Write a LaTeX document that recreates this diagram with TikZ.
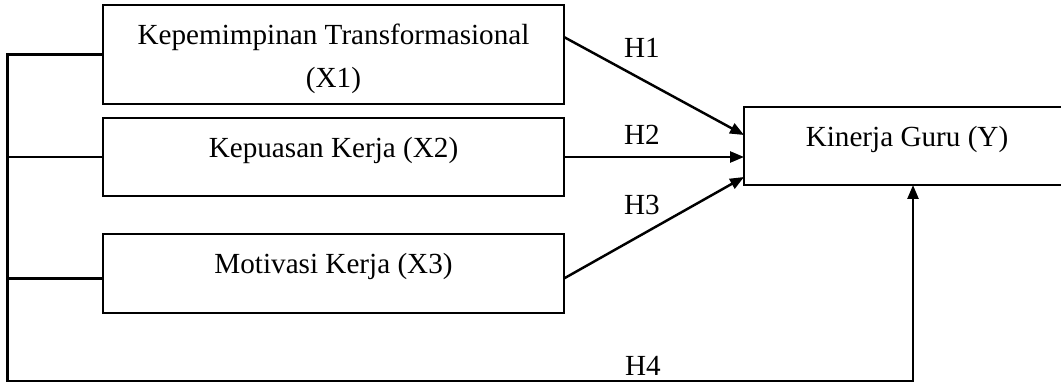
\documentclass[tikz,border=0pt]{standalone}
\usepackage{fontspec}
\setmainfont{Liberation Serif}
\usetikzlibrary{arrows.meta}

\begin{document}
\begin{tikzpicture}[x=0.02cm,y=-0.02cm,
  box/.style = {draw, line width=1pt, outer sep=0pt, inner sep=2pt
    , minimum width=9.22cm, align=center
    , font=\fontsize{16.6}{24.4}\selectfont},
  lowtext/.style = {text height=0.35cm, text depth=0.35cm},
  link/.style = {line width=1.4pt},
  hyp/.style = {link, -{Triangle[length=0.28cm,width=0.22cm]}},
  lbl/.style = {font=\fontsize{16.6}{19}\selectfont, inner sep=0pt}]

 \useasboundingbox (0,0) rectangle (1061,385);

 % variables
 \node[box, text height=1.45cm, text depth=0.13cm, minimum height=1.98cm] (X1) at (333.5,54.5) {Kepemimpinan Transformasional\\(X1)};
 \node[box, lowtext, minimum height=1.56cm] (X2) at (333.5,157) {Kepuasan Kerja (X2)};
 \node[box, lowtext, minimum height=1.58cm] (X3) at (333.5,273.5) {Motivasi Kerja (X3)};
 \node[box, lowtext, minimum width=6.52cm, minimum height=1.56cm] (Y) at (907,146) {Kinerja Guru (Y)};

 \coordinate (L) at (7.5,381);
 \coordinate (B) at (913,381);

 % hypotheses
 \draw[hyp] ([yshift=0.35cm]X1.east) -- ([yshift=0.22cm]Y.west);
 \draw[hyp] (X2.east) -- (X2.east -| Y.west);
 \draw[hyp] ([yshift=-0.1cm]X3.east) -- ([yshift=0.16cm]Y.south west);
 \draw[hyp] (X1.west) -| (L) -- (B) -- (B |- Y.south);
 \draw[link] (X2.west) -- (X2.west -| L);
 \draw[link] ([yshift=-0.1cm]X3.west) -- ([yshift=-0.1cm]X3.west -| L);

 \node[lbl] (h1) at (642,48) {H1};
 \node[lbl] (h2) at (642,135) {H2};
 \node[lbl] (h3) at (642,205) {H3};
 \node[lbl] (h4) at (643,366) {H4};
\end{tikzpicture}
\end{document}
